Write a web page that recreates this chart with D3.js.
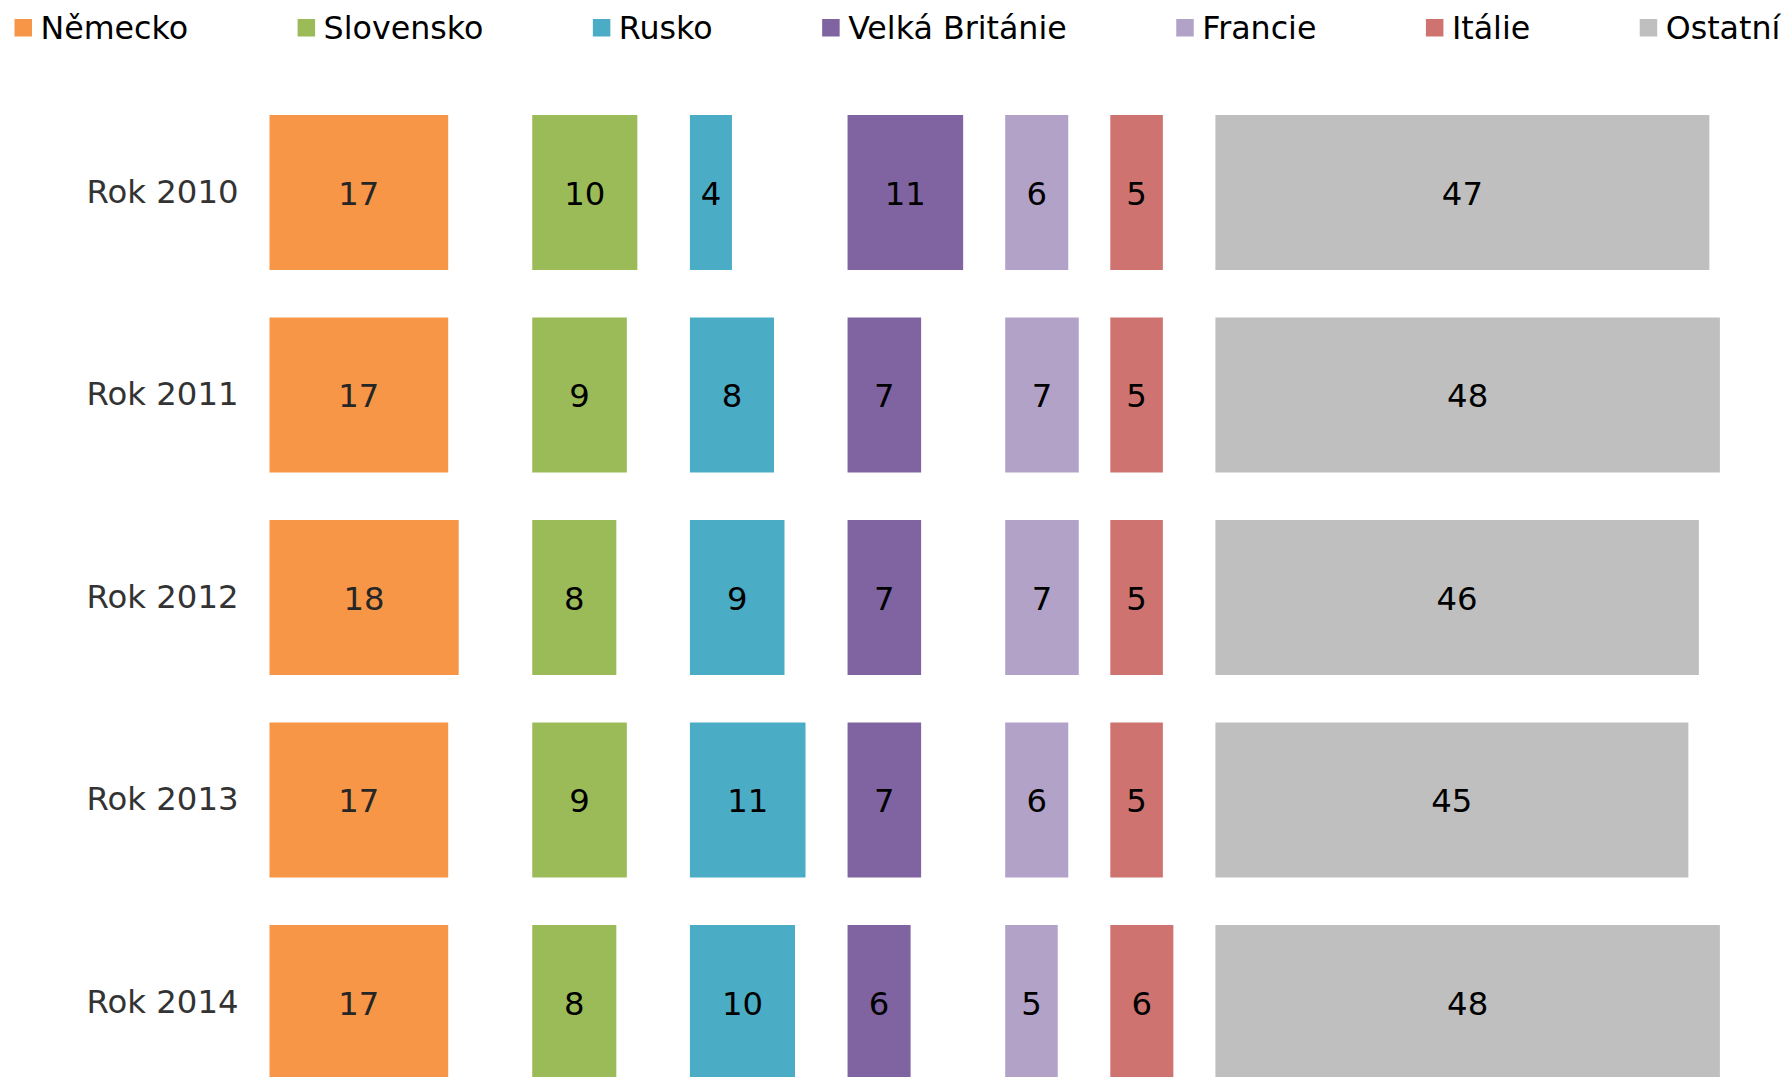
<!DOCTYPE html>
<html>
<head>
<meta charset="utf-8">
<script src="https://cdn.jsdelivr.net/npm/d3@7"></script>
<style>
  html, body { margin: 0; padding: 0; background: #fff; }
  svg { display: block; font-family: "DejaVu Sans", Verdana, sans-serif; }
</style>
</head>
<body>
<svg id="chart" width="1787" height="1077"></svg>
<script>
// ---- data ----
const years = ["Rok 2010", "Rok 2011", "Rok 2012", "Rok 2013", "Rok 2014"];
const countries = ["Německo", "Slovensko", "Rusko", "Velká Británie", "Francie", "Itálie", "Ostatní"];
const colors = ["#F79646", "#9BBB59", "#4BACC6", "#8064A2", "#B3A2C7", "#CE736F", "#BFBFBF"];
// column start offsets (value units) for each country panel
const offsets = [0, 25, 40, 55, 70, 80, 90];
// values per country, one per year (2010..2014)
const nemecko   = [17, 17, 18, 17, 17];
const slovensko = [10, 9, 8, 9, 8];
const rusko     = [4, 8, 9, 11, 10];
const britanie  = [11, 7, 7, 7, 6];
const francie   = [6, 7, 7, 6, 5];
const italie    = [5, 5, 5, 5, 6];
const ostatni   = [47, 48, 46, 45, 48];
const series = [nemecko, slovensko, rusko, britanie, francie, italie, ostatni];

// ---- layout ----
const svg = d3.select("#chart");
const fontSize = 32.3;
const legendFont = 31.7;

const x = d3.scaleLinear().domain([0, 140]).range([269.5, 269.5 + 140 * 10.51]);
const y = d3.scaleBand().domain(years).range([91.25, 1103.75]).paddingInner(0.2346).paddingOuter(0.1173);

// bars
const bars = [];
series.forEach((vals, ci) => {
  vals.forEach((v, yi) => bars.push({ c: ci, year: years[yi], v: v }));
});

const g = svg.append("g");
g.selectAll("rect.bar").data(bars).enter().append("rect")
  .attr("class", "bar")
  .attr("x", d => x(offsets[d.c]))
  .attr("y", d => y(d.year))
  .attr("width", d => x(offsets[d.c] + d.v) - x(offsets[d.c]))
  .attr("height", y.bandwidth())
  .attr("fill", d => colors[d.c]);

g.selectAll("text.val").data(bars).enter().append("text")
  .attr("class", "val")
  .attr("x", d => (x(offsets[d.c]) + x(offsets[d.c] + d.v)) / 2)
  .attr("y", d => y(d.year) + y.bandwidth() / 2)
  .attr("dy", "0.38em")
  .attr("text-anchor", "middle")
  .attr("font-size", fontSize)
  .attr("fill", d => d.c === 0 ? "#262626" : "#000")
  .text(d => d.v);

// category axis labels
const yAxis = d3.axisLeft(y).tickSize(0).tickPadding(0);
const ax = svg.append("g").attr("transform", "translate(238.5,0)").call(yAxis);
ax.select(".domain").remove();
ax.selectAll("text").attr("font-size", fontSize).attr("fill", "#333")
  .attr("font-family", "DejaVu Sans, Verdana, sans-serif");

// legend
const legend = svg.append("g").attr("class", "legend");
let lx = 14.5;
const gap = 109.5;
countries.forEach((name, i) => {
  const item = legend.append("g").attr("transform", `translate(${lx},0)`);
  item.append("rect").attr("x", 0).attr("y", 19).attr("width", 17.5).attr("height", 17.5).attr("fill", colors[i]);
  const t = item.append("text").attr("x", 26).attr("y", 38.5)
    .attr("font-size", legendFont).attr("fill", "#000").text(name);
  const w = t.node().getComputedTextLength();
  lx += 26 + w + gap;
});
</script>
</body>
</html>
